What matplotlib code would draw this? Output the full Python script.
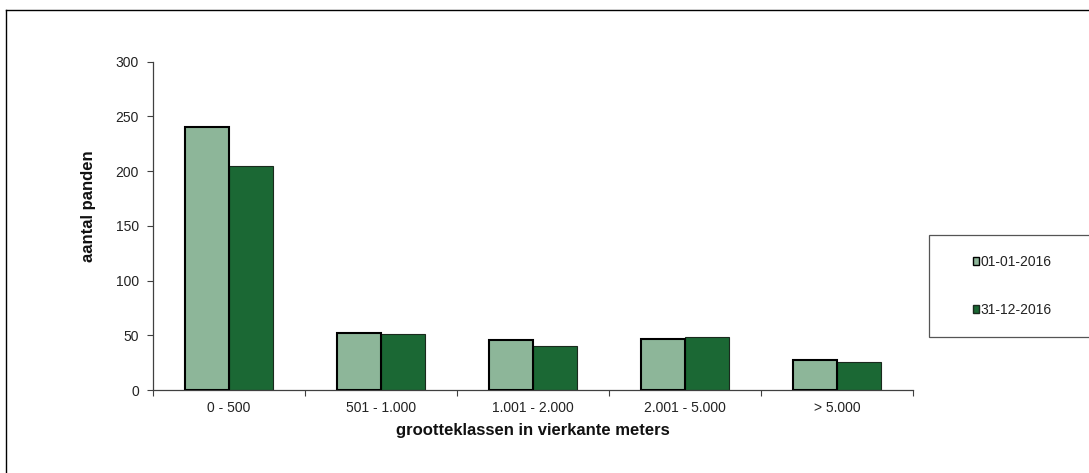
import matplotlib
matplotlib.use("Agg")
import matplotlib.pyplot as plt
from matplotlib.lines import Line2D
from matplotlib.patches import Rectangle

plt.rcParams['font.family'] = ['Liberation Sans', 'DejaVu Sans']

categories = ["0 - 500", "501 - 1.000", "1.001 - 2.000", "2.001 - 5.000", "> 5.000"]
series_names = ["01-01-2016", "31-12-2016"]
values_start = [240, 52, 46, 47, 27]
values_end = [205, 51, 40, 48, 26]
y_ticks = [0, 50, 100, 150, 200, 250, 300]

light_green = "#8db699"
dark_green = "#1b6834"
text_color = "#222222"

W, H = 1089, 473
fig = plt.figure(figsize=(W / 100, H / 100), dpi=100)
fig.patch.set_facecolor("white")

# outer frame (only the left and top edges fall inside the canvas)
fig.add_artist(Line2D([6 / W, 6 / W], [0, 1 - 10.5 / H], transform=fig.transFigure,
                      color="black", lw=1.0))
fig.add_artist(Line2D([6 / W, 1], [1 - 10.5 / H, 1 - 10.5 / H], transform=fig.transFigure,
                      color="black", lw=1.0))

ax_left, ax_right = 153 / W, 913 / W
ax_bottom, ax_top = 1 - 390 / H, 1 - 61.7 / H
ax = fig.add_axes([ax_left, ax_bottom, ax_right - ax_left, ax_top - ax_bottom])

x = list(range(len(categories)))
bw = 0.29
b1 = ax.bar([i - bw / 2 for i in x], values_start, width=bw, color=light_green,
            edgecolor="black", linewidth=1.5, label=series_names[0], zorder=3)
b2 = ax.bar([i + bw / 2 for i in x], values_end, width=bw, color=dark_green,
            edgecolor="#1a2a1e", linewidth=0.8, label=series_names[1], zorder=2)

ax.set_xlim(-0.5, len(categories) - 0.5)
ax.set_ylim(0, 300)
ax.set_yticks(y_ticks)
ax.set_yticklabels([str(v) for v in y_ticks], fontsize=10, color=text_color)

# tick marks at class boundaries, labels at class centres
ax.set_xticks([i - 0.5 for i in range(len(categories) + 1)])
ax.set_xticklabels([])
ax.set_xticks(x, minor=True)
ax.set_xticklabels(categories, minor=True, fontsize=10, color=text_color)
ax.tick_params(axis="x", which="major", length=4, width=0.8, color="#404040", direction="out")
ax.tick_params(axis="x", which="minor", length=0, pad=8)
ax.tick_params(axis="y", length=4, width=0.8, color="#404040", direction="out", pad=6)

for s in ("top", "right"):
    ax.spines[s].set_visible(False)
for s in ("left", "bottom"):
    ax.spines[s].set_color("#404040")
    ax.spines[s].set_linewidth(0.9)

fig.text(533 / W, 1 - 430 / H, "grootteklassen in vierkante meters", ha="center", va="center",
         fontsize=12, fontweight="bold", color="#111111")
fig.text(88 / W, 1 - 206 / H, "aantal panden", ha="center", va="center", rotation=90,
         fontsize=12, fontweight="bold", color="#111111")

# legend box runs past the right edge
fig.add_artist(Rectangle((929 / W, 1 - 337 / H), (W + 10 - 929) / W, (337 - 235) / H,
                         transform=fig.transFigure, facecolor="white", edgecolor="#555555",
                         lw=0.9, zorder=1))
leg = fig.legend(handles=[b1, b2], labels=series_names, loc="center left",
                 bbox_to_anchor=(960 / W, 1 - 286 / H), frameon=False, fontsize=10,
                 handlelength=0.5, handleheight=0.5, handletextpad=0.1, labelspacing=2.4)
for t in leg.get_texts():
    t.set_color(text_color)
for h in leg.legend_handles:
    h.set_linewidth(1.0)

fig.savefig("out.png", dpi=100, facecolor="white")
